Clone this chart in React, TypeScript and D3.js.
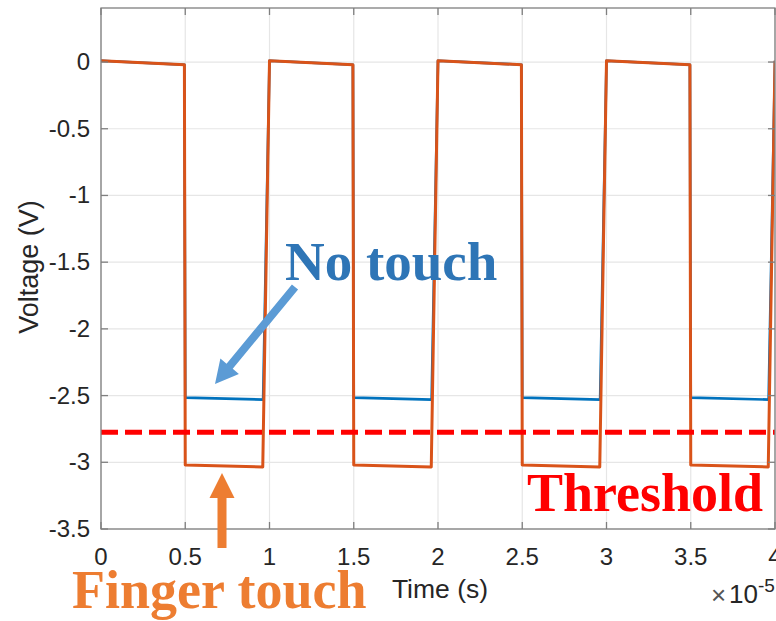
import * as d3 from "d3";

// time in units of 1e-5 s, voltage in V
const fingerTime = [0, 0.495, 0.5, 0.96, 1.0, 1.495, 1.5, 1.96, 2.0, 2.495, 2.5, 2.96, 3.0, 3.495, 3.5, 3.96, 4.0];
const fingerVolt = [0.01, -0.02, -3.02, -3.035, 0.01, -0.02, -3.02, -3.035, 0.01, -0.02, -3.02, -3.035, 0.01, -0.02, -3.02, -3.035, 0.01];
const noTouchTime = [0, 0.495, 0.5, 0.962, 1.0, 1.495, 1.5, 1.962, 2.0, 2.495, 2.5, 2.962, 3.0, 3.495, 3.5, 3.962, 4.0];
const noTouchVolt = [0.01, -0.02, -2.515, -2.53, 0.01, -0.02, -2.515, -2.53, 0.01, -0.02, -2.515, -2.53, 0.01, -0.02, -2.515, -2.53, 0.01];
const thresholdVolt = -2.775;

const xTicks = [0, 0.5, 1, 1.5, 2, 2.5, 3, 3.5, 4];
const xTickLabels = ["0", "0.5", "1", "1.5", "2", "2.5", "3", "3.5", "4"];
const yTicks = [0, -0.5, -1, -1.5, -2, -2.5, -3, -3.5];
const yTickLabels = ["0", "-0.5", "-1", "-1.5", "-2", "-2.5", "-3", "-3.5"];

const W = 776;
const H = 621;
const left = 101, right = 775, top = 8, bottom = 529;

const sans = "'Liberation Sans', Arial, sans-serif";
const serif = "'Liberation Serif', 'Times New Roman', serif";

// arrow polygon from tail to tip
function arrow(x1: number, y1: number, x2: number, y2: number, sw: number, hw: number, hl: number) {
  const dx = x2 - x1, dy = y2 - y1;
  const len = Math.hypot(dx, dy);
  const ux = dx / len, uy = dy / len;
  const px = -uy, py = ux;
  const bx = x2 - ux * hl, by = y2 - uy * hl;
  const pts = [
    [x1 + px * sw / 2, y1 + py * sw / 2],
    [bx + px * sw / 2, by + py * sw / 2],
    [bx + px * hw / 2, by + py * hw / 2],
    [x2, y2],
    [bx - px * hw / 2, by - py * hw / 2],
    [bx - px * sw / 2, by - py * sw / 2],
    [x1 - px * sw / 2, y1 - py * sw / 2],
  ];
  return pts.map((p) => p.join(",")).join(" ");
}

export default function App() {
  const x = d3.scaleLinear().domain([0, 4]).range([left, right]);
  const y = d3.scaleLinear().domain([-3.5, 0.405]).range([bottom, top]);

  const line = d3
    .line<[number, number]>()
    .x((d) => x(d[0]))
    .y((d) => y(d[1]));

  const finger = line(fingerTime.map((t, i) => [t, fingerVolt[i]]) as [number, number][]);
  const noTouch = line(noTouchTime.map((t, i) => [t, noTouchVolt[i]]) as [number, number][]);

  const tickLen = 7;

  return (
    <div style={{ position: "fixed", left: 0, top: 0 }}>
      <svg width={W} height={H} style={{ display: "block", background: "#fff" }}>
        <defs>
          <clipPath id="plot">
            <rect x={left} y={top} width={right - left} height={bottom - top} />
          </clipPath>
        </defs>
        <rect x={left} y={top} width={right - left} height={bottom - top} fill="#fff" />
        {/* grid */}
        {xTicks.map((t) => (
          <line key={"gx" + t} x1={x(t)} x2={x(t)} y1={top} y2={bottom} stroke="#e6e6e6" strokeWidth={1.2} />
        ))}
        {yTicks.map((t) => (
          <line key={"gy" + t} x1={left} x2={right} y1={y(t)} y2={y(t)} stroke="#e6e6e6" strokeWidth={1.2} />
        ))}

        {/* series */}
        <g clipPath="url(#plot)">
          <path d={noTouch ?? ""} fill="none" stroke="#0072BD" strokeWidth={2.6} strokeLinejoin="round" />
          <path d={finger ?? ""} fill="none" stroke="#D95319" strokeWidth={3} strokeLinejoin="round" />
          <line
            x1={left}
            x2={right}
            y1={y(thresholdVolt)}
            y2={y(thresholdVolt)}
            stroke="#FF0000"
            strokeWidth={5}
            strokeDasharray="17 7"
          />
        </g>

        {/* box and ticks */}
        <rect x={left} y={top} width={right - left} height={bottom - top} fill="none" stroke="#7f7f7f" strokeWidth={1.3} />
        {xTicks.map((t) => (
          <g key={"tx" + t} stroke="#7f7f7f" strokeWidth={1.3}>
            <line x1={x(t)} x2={x(t)} y1={bottom} y2={bottom - tickLen} />
            <line x1={x(t)} x2={x(t)} y1={top} y2={top + tickLen} />
          </g>
        ))}
        {yTicks.map((t) => (
          <g key={"ty" + t} stroke="#7f7f7f" strokeWidth={1.3}>
            <line x1={left} x2={left + tickLen} y1={y(t)} y2={y(t)} />
            <line x1={right} x2={right - tickLen} y1={y(t)} y2={y(t)} />
          </g>
        ))}

        {/* tick labels */}
        <g fontFamily={sans} fontSize={24} fill="#262626">
          {xTicks.map((t, i) => (
            <text key={"lx" + t} x={x(t)} y={565} textAnchor="middle">
              {xTickLabels[i]}
            </text>
          ))}
          {yTicks.map((t, i) => (
            <text key={"ly" + t} x={90} y={y(t) + 8} textAnchor="end">
              {yTickLabels[i]}
            </text>
          ))}
          <text x={711} y={604} fontSize={26} fill="#555">
            ×
          </text>
          <text x={729} y={603} fontSize={26}>
            10<tspan dy={-11} fontSize={19}>-5</tspan>
          </text>
        </g>

        {/* axis labels */}
        <text x={440} y={598} textAnchor="middle" fontFamily={sans} fontSize={26.5} fill="#262626">
          Time (s)
        </text>
        <text
          transform="translate(38,267) rotate(-90)"
          textAnchor="middle"
          fontFamily={sans}
          fontSize={27}
          fill="#262626"
        >
          Voltage (V)
        </text>

        {/* annotations */}
        <polygon points={arrow(295, 287, 215, 384, 8, 24, 23)} fill="#5B9BD5" />
        <polygon points={arrow(222, 548, 222, 473, 9, 25, 25)} fill="#ED7D31" />
        <text x={285} y={280} fontFamily={serif} fontWeight="bold" fontSize={55} fill="#2E75B6">
          No touch
        </text>
        <text x={763} y={511} textAnchor="end" fontFamily={serif} fontWeight="bold" fontSize={54} fill="#FF0000">
          Threshold
        </text>
        <text x={72} y={608} fontFamily={serif} fontWeight="bold" fontSize={54} fill="#ED7D31">
          Finger touch
        </text>
      </svg>
    </div>
  );
}
